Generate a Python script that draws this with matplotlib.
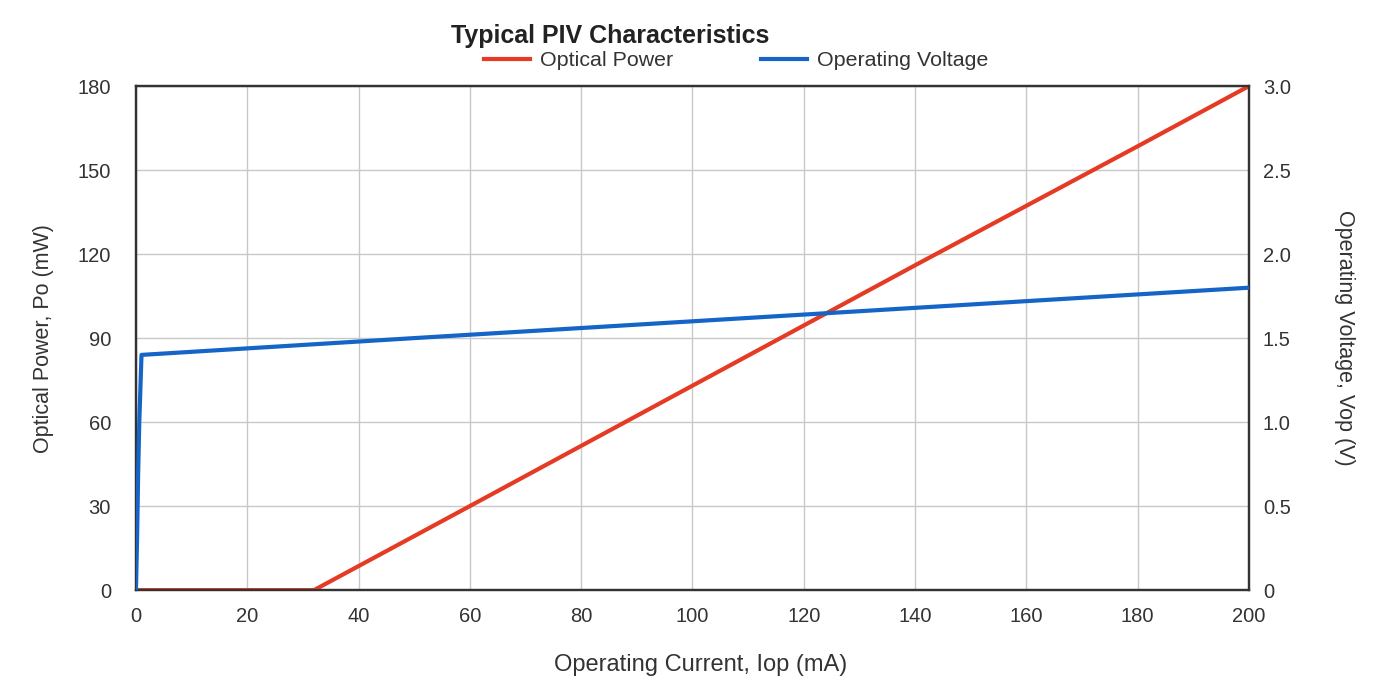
import matplotlib.pyplot as plt

plt.rcParams['font.family'] = ['Liberation Sans', 'DejaVu Sans']

# operating current (mA) vs optical power (mW)
current_po = [0, 10, 20, 32, 60, 100, 140, 180, 200]
power_po = [0, 0, 0, 0, 30, 73, 116, 158.5, 180]

# operating current (mA) vs operating voltage (V)
current_vop = [0, 0.2, 0.4, 0.6, 0.8, 1.0, 50, 100, 150, 200]
voltage_vop = [0, 0.3, 0.7, 1.0, 1.2, 1.40, 1.50, 1.60, 1.70, 1.80]

RED = '#E53A24'
BLUE = '#1565C8'
TXT = '#333333'

fig = plt.figure(figsize=(14, 7), dpi=100)
ax = fig.add_axes([0.0971, 0.157, 0.795, 0.72])
ax2 = ax.twinx()

l1, = ax.plot(current_po, power_po, color=RED, lw=3.0, label='Optical Power', zorder=3)
l2, = ax2.plot(current_vop, voltage_vop, color=BLUE, lw=3.0, label='Operating Voltage', zorder=3)

ax.set_xlim(0, 200)
ax.set_ylim(0, 180)
ax2.set_ylim(0, 3.0)
ax.set_xticks(range(0, 201, 20))
ax.set_yticks(range(0, 181, 30))
ax2.set_yticks([0, 0.5, 1.0, 1.5, 2.0, 2.5, 3.0])
ax2.set_yticklabels(['0', '0.5', '1.0', '1.5', '2.0', '2.5', '3.0'])

ax.grid(True, color='#c8c8c8', lw=1)
ax.set_axisbelow(True)
for a in (ax, ax2):
    for s in a.spines.values():
        s.set_color(TXT)
        s.set_linewidth(1.6)
    a.tick_params(length=0, labelsize=14.5, colors=TXT)
ax.tick_params(axis='y', pad=18)
ax.tick_params(axis='x', pad=12)
ax2.tick_params(axis='y', pad=10)

ax.set_xlabel('Operating Current, Iop (mA)', fontsize=17, color=TXT, labelpad=20)
ax.xaxis.set_label_coords(0.507, -0.126)
ax.set_ylabel('Optical Power, Po (mW)', fontsize=15.5, color=TXT, labelpad=17)
ax2.set_ylabel('Operating Voltage, Vop (V)', fontsize=15.5, color=TXT,
               rotation=-90, labelpad=46)

fig.text(0.436, 0.948, 'Typical PIV Characteristics', fontsize=18,
         fontweight='bold', color='#222222', ha='center', va='center')
fig.legend(handles=[l1, l2], loc='center', bbox_to_anchor=(0.526, 0.913), ncol=2,
           frameon=False, fontsize=15.4, handlelength=2.15, handletextpad=0.47,
           columnspacing=4.1, labelcolor=TXT)

fig.savefig('out.png', dpi=100)
